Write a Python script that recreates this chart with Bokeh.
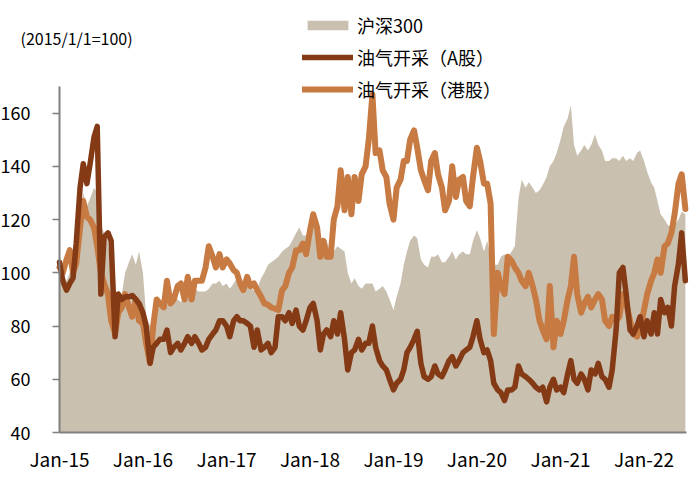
import pandas as pd
from bokeh.plotting import figure
from bokeh.models import (ColumnDataSource, Legend, LegendItem, Label, FixedTicker,
                          DatetimeTickFormatter, Range1d)
from bokeh.embed import file_html
from bokeh.resources import INLINE

# ---- data (semi-monthly, starting 2015-01-01) ----
hs300 = [
    100, 100, 97, 100, 103, 110, 120, 130, 125, 128, 132, 130,
    118, 115, 112, 100, 88, 90, 92, 100, 104, 107, 103, 108,
    100, 84, 80, 82, 86, 88, 90, 91, 90, 89, 90, 89,
    91, 92, 93, 94, 93, 93, 93, 94, 96, 96, 97, 95,
    96, 94, 96, 98, 97, 97, 97, 95, 93, 94, 98, 100,
    103, 104, 105, 106, 108, 109, 110, 112, 115, 117, 114, 114,
    118, 120, 117, 110, 113, 112, 107, 108, 110, 109, 108, 100,
    96, 98, 95, 94, 96, 96, 96, 93, 94, 95, 93, 90,
    86, 91, 96, 103, 108, 112, 114, 113, 105, 103, 102, 106,
    106, 107, 104, 104, 106, 108, 105, 107, 108, 107, 107, 112,
    116, 113, 108, 112, 106, 103, 103, 106, 107, 106, 108, 110,
    128, 135, 132, 134, 132, 130, 131, 133, 136, 140, 142, 145,
    150, 155, 158, 163, 148, 144, 146, 148, 146, 148, 152, 148,
    146, 142, 142, 143, 143, 142, 144, 142, 143, 142, 145, 146,
    142, 138, 134, 132, 127, 122, 120, 118, 117, 118, 120, 123, 122,
]
oil_a = [
    104, 97, 93.5, 96, 98, 111, 132, 141, 133.5, 141, 151, 155,
    92, 113.5, 115, 112, 76, 92, 90, 91, 91, 91.5, 90, 88.5,
    85, 80, 66, 72, 73.5, 75, 75, 78.5, 70, 72, 73.5, 71,
    73.5, 76, 73.5, 76, 73.5, 71, 72, 75, 77, 78.5, 82, 82,
    80, 76, 82, 83.5, 82, 82, 81, 80, 72, 78.5, 71, 72,
    73.5, 70, 72, 83.5, 83.5, 82, 85, 81, 86, 80, 78.5, 82,
    87, 88.5, 82, 71, 77, 78.5, 76, 82, 77, 85, 75, 63.5,
    70, 71, 75, 71, 73.5, 73.5, 80, 72, 67, 65, 63.5, 60,
    56, 58.5, 60, 63.5, 70, 72, 75, 78, 66, 61, 60, 61,
    65, 62, 61, 63.5, 67, 68.5, 65, 67, 70, 71, 72, 76,
    82, 75, 70, 71, 67, 58.5, 56, 55, 52, 56, 56, 57,
    65, 62, 61, 60, 58.5, 57, 56, 57, 51.5, 57, 60, 56,
    57, 55, 62, 67, 60, 58.5, 62, 60, 56, 63.5, 62, 66,
    61, 60, 57, 63.5, 78.5, 100, 102, 92, 78.5, 77, 80, 83.5,
    76, 82, 77, 85, 77, 90, 85, 87, 80, 95, 103.5, 115, 97,
]
oil_hk = [
    102, 100, 105, 108.5, 100, 103.5, 117, 127, 121, 120, 117, 110,
    100, 96, 92, 82, 77, 85, 87, 92, 87, 83.5, 90, 82,
    81, 73.5, 66, 80, 90, 88.5, 87, 97, 88.5, 90, 95, 96,
    90, 98.5, 90, 97, 97, 97, 102, 110, 106, 102, 107, 102,
    105, 103.5, 101, 100, 96, 93.5, 98.5, 95, 96, 93.5, 91, 88.5,
    88, 87, 86.5, 86, 93.5, 95, 100, 102, 108.5, 108.5, 111, 107,
    116, 122, 117, 106, 112, 106, 106, 120, 125, 138.5, 123.5, 136,
    122, 136, 127, 137, 140, 150, 167, 145, 146, 138.5, 136, 126,
    120, 132, 135, 142, 142, 150, 153.5, 147, 138.5, 135, 131, 142,
    145, 137, 132, 123.5, 127, 140, 128.5, 135, 136, 127, 125, 136,
    147, 142, 133.5, 133.5, 126, 77, 100, 95, 92, 106, 104.5, 102,
    100, 97, 95, 100, 95, 90, 82, 78.5, 75, 95, 72, 82,
    77, 82, 90, 95, 106, 92, 85, 88.5, 91, 87, 90, 92,
    90, 82, 80, 83.5, 82, 83.5, 92, 88.5, 82, 77, 76, 78.5,
    86, 92, 97, 100, 105, 100, 110, 111, 115, 122, 133.5, 137, 124,
]
year_ticks = [2015, 2016, 2017, 2018, 2019, 2020, 2021, 2022]
y_ticks = [40, 60, 80, 100, 120, 140, 160]
series_names = ["沪深300", "油气开采（A股）", "油气开采（港股）"]
note_text = "(2015/1/1=100)"

dates = pd.date_range("2015-01-01", periods=len(hs300), freq="SMS")
src = ColumnDataSource(dict(date=dates, hs300=hs300, oil_a=oil_a, oil_hk=oil_hk))

FONT = "Noto Sans CJK SC"
AREA = "#CAC0AF"
DARK = "#853A16"
ORANGE = "#C77A41"
AXIS = "#808080"


def ms(ts):
    return pd.Timestamp(ts).timestamp() * 1000


# Plot geometry: the frame fills the whole canvas; the axes are drawn at fixed
# data locations (2015-01-01 and 40) so that the texts around them stay visible.
W, H = 692, 471
AX_L, AX_R, AX_T, AX_B = 59, 686, 86, 432      # axis box, in canvas px
t0, t1 = ms("2015-01-01"), ms("2022-07-06")
y0, y1 = 40, 170
mx = (t1 - t0) / (AX_R - AX_L)
my = (y1 - y0) / (AX_B - AX_T)

p = figure(width=W, height=H, x_axis_type="datetime", output_backend="svg",
           toolbar_location=None, min_border=0,
           x_range=Range1d(t0 - AX_L * mx, t1 + (W - AX_R) * mx),
           y_range=Range1d(y0 - (H - AX_B) * my, y1 + AX_T * my))
p.outline_line_color = None
p.border_fill_color = "white"
p.xgrid.visible = False
p.ygrid.visible = False
p.background_fill_color = "white"

area = p.varea(x="date", y1=y0, y2="hs300", source=src, fill_color=AREA)
hk = p.line(x="date", y="oil_hk", source=src, line_color=ORANGE, line_width=6,
            line_join="round", line_cap="round")
a = p.line(x="date", y="oil_a", source=src, line_color=DARK, line_width=5.5,
           line_join="round", line_cap="round")

# axes
p.xaxis.fixed_location = y0
p.xaxis.bounds = (t0, t1)
p.xaxis.ticker = FixedTicker(ticks=[ms(f"{y}-01-01") for y in year_ticks])
fmt = "%b-%y"
p.xaxis.formatter = DatetimeTickFormatter(milliseconds=fmt, seconds=fmt, minsec=fmt, minutes=fmt,
                                          hourmin=fmt, hours=fmt, days=fmt, months=fmt, years=fmt)
p.yaxis.fixed_location = t0
p.yaxis.bounds = (y0, y1)
p.yaxis.ticker = FixedTicker(ticks=y_ticks)
for ax in (p.xaxis, p.yaxis):
    ax.axis_line_color = AXIS
    ax.axis_line_width = 2
    ax.major_tick_line_color = AXIS
    ax.major_tick_line_width = 1.5
    ax.minor_tick_line_color = None
    ax.major_label_text_font = FONT
    ax.major_label_text_color = "#000000"
p.xaxis.major_label_text_font_size = "19px"
p.yaxis.major_label_text_font_size = "18px"
p.xaxis.major_tick_out = 0
p.xaxis.major_tick_in = 0
p.xaxis.major_label_standoff = 12
p.yaxis.major_tick_out = 7
p.yaxis.major_tick_in = 0
p.yaxis.major_label_standoff = 22

note = Label(x=20, y=H - 37, x_units="screen", y_units="screen", text=note_text,
             text_font=FONT, text_font_size="16px", text_baseline="middle",
             text_color="#000000")
p.add_layout(note)

legend = Legend(items=[LegendItem(label=series_names[0], renderers=[area]),
                       LegendItem(label=series_names[1], renderers=[a]),
                       LegendItem(label=series_names[2], renderers=[hk])],
                location=(AX_L + 243, H - 102), orientation="vertical",
                border_line_color=None, background_fill_alpha=0, padding=0, margin=0,
                glyph_width=51, glyph_height=12, label_height=24, spacing=6,
                label_standoff=4, label_text_font=FONT, label_text_font_size="18px",
                label_text_color="#000000")
p.add_layout(legend)

open("out.html", "w").write(file_html(p, INLINE))
